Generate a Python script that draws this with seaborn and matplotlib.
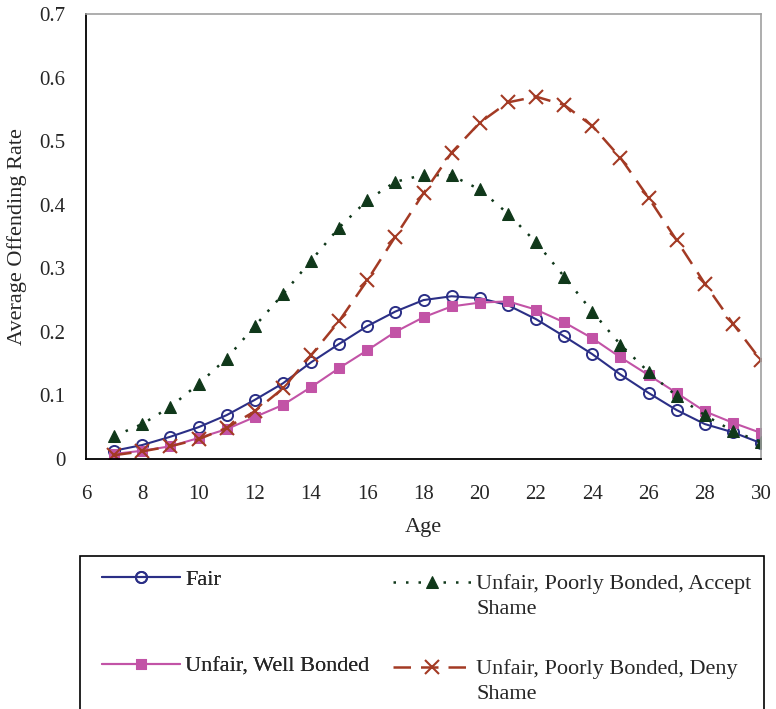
import matplotlib
matplotlib.use("Agg")
import matplotlib.pyplot as plt
import seaborn as sns
import numpy as np
from matplotlib.patches import Rectangle

ages = list(range(7, 31))
fair = [0.013, 0.022, 0.035, 0.050, 0.069, 0.093, 0.119, 0.152, 0.181, 0.209, 0.232, 0.250,
        0.256, 0.253, 0.242, 0.220, 0.193, 0.165, 0.133, 0.104, 0.077, 0.055, 0.042, 0.025]
well_bonded = [0.008, 0.013, 0.020, 0.033, 0.047, 0.066, 0.085, 0.113, 0.143, 0.171, 0.200, 0.223,
               0.240, 0.246, 0.248, 0.235, 0.215, 0.190, 0.160, 0.132, 0.104, 0.075, 0.057, 0.041]
accept_shame = [0.036, 0.055, 0.082, 0.118, 0.158, 0.209, 0.259, 0.312, 0.364, 0.407, 0.436, 0.447,
                0.446, 0.424, 0.386, 0.341, 0.287, 0.232, 0.180, 0.137, 0.099, 0.069, 0.044, 0.027]
deny_shame = [0.006, 0.012, 0.020, 0.031, 0.049, 0.075, 0.111, 0.163, 0.217, 0.281, 0.350, 0.418,
              0.482, 0.529, 0.561, 0.570, 0.557, 0.524, 0.474, 0.411, 0.344, 0.276, 0.213, 0.155]
labels = ["Fair", "Unfair, Well Bonded", "Unfair, Poorly Bonded, Accept\nShame",
          "Unfair, Poorly Bonded, Deny\nShame"]
x_ticks = list(range(6, 31, 2))
y_ticks = [0, 0.1, 0.2, 0.3, 0.4, 0.5, 0.6, 0.7]
y_tick_labels = ["0", "0.1", "0.2", "0.3", "0.4", "0.5", "0.6", "0.7"]

sns.set_style("white")
plt.rcParams['font.family'] = ['Liberation Serif', 'DejaVu Serif']
TICK_FS = 15
LAB_FS = 16
LEG_FS = 16

W, H = 776, 709
fig = plt.figure(figsize=(W / 100, H / 100), dpi=100)
ax = fig.add_axes([86 / W, 1 - 459 / H, (761 - 86) / W, (459 - 14) / H])

styles = [
    dict(color="#2B2F86", linestyle="-", marker="o", markerfacecolor="none",
         markeredgecolor="#2B2F86", markersize=8, markeredgewidth=1.4, linewidth=1.5),
    dict(color="#C253A6", linestyle="-", marker="s", markerfacecolor="#C253A6",
         markeredgecolor="#C253A6", markersize=7.5, linewidth=1.5),
    dict(color="#10381A", linestyle=(0, (1, 4)), marker="^", markerfacecolor="#10381A",
         markeredgecolor="#10381A", markersize=9, linewidth=1.8),
    dict(color="#A33A24", linestyle=(0, (7, 4)), marker="x", markerfacecolor="none",
         markeredgecolor="#A33A24", markersize=10, markeredgewidth=1.5, linewidth=1.8),
]
series = [fair, well_bonded, accept_shame, deny_shame]
handles = []
for vals, lab, st in zip(series, labels, styles):
    sns.lineplot(x=ages, y=vals, ax=ax, label=lab, **st)
    handles.append(ax.get_lines()[-1])
ax.get_legend().remove()

ax.set_xlim(6, 30)
ax.set_ylim(0, 0.7)
ax.set_xticks(x_ticks)
ax.set_xticklabels([str(t) for t in x_ticks], fontsize=TICK_FS)
ax.set_yticks(y_ticks)
ax.set_yticklabels(y_tick_labels, fontsize=TICK_FS)
ax.tick_params(axis="both", direction="out", length=6, width=1.2, color="black")
ax.tick_params(axis="x", pad=13)
ax.tick_params(axis="y", pad=9)
ax.set_xlabel("Age", fontsize=LAB_FS, labelpad=10)
ax.set_ylabel("Average Offending Rate", fontsize=LAB_FS, labelpad=9)
for s in ["left", "bottom"]:
    ax.spines[s].set_color("black")
    ax.spines[s].set_linewidth(1.3)
for s in ["top", "right"]:
    ax.spines[s].set_color("#A0A0A0")
    ax.spines[s].set_linewidth(1.2)

# legend box
fig.patches.append(Rectangle((80 / W, -0.05), (764 - 80) / W, 0.05 + 1 - 556 / H,
                             transform=fig.transFigure, fill=False, edgecolor="black",
                             linewidth=1.2))
common = dict(frameon=False, fontsize=LEG_FS, handlelength=3.5, handletextpad=0.25,
              borderpad=0, borderaxespad=0, loc="upper left")
leg1 = fig.legend(handles[:2], labels[:2], bbox_to_anchor=(102 / W, 1 - 569 / H),
                  labelspacing=2.98, **common)
leg2 = fig.legend(handles[2:], labels[2:], bbox_to_anchor=(393 / W, 1 - 574 / H),
                  labelspacing=1.8, **common)
for t in leg2.get_texts():
    t.set_linespacing(1.45)
# align handles with first text line
for col in leg2._legend_handle_box.get_children():
    for hp in col.get_children():
        hp.align = "top"
fig.add_artist(leg1)

fig.savefig("out.png", dpi=100)
